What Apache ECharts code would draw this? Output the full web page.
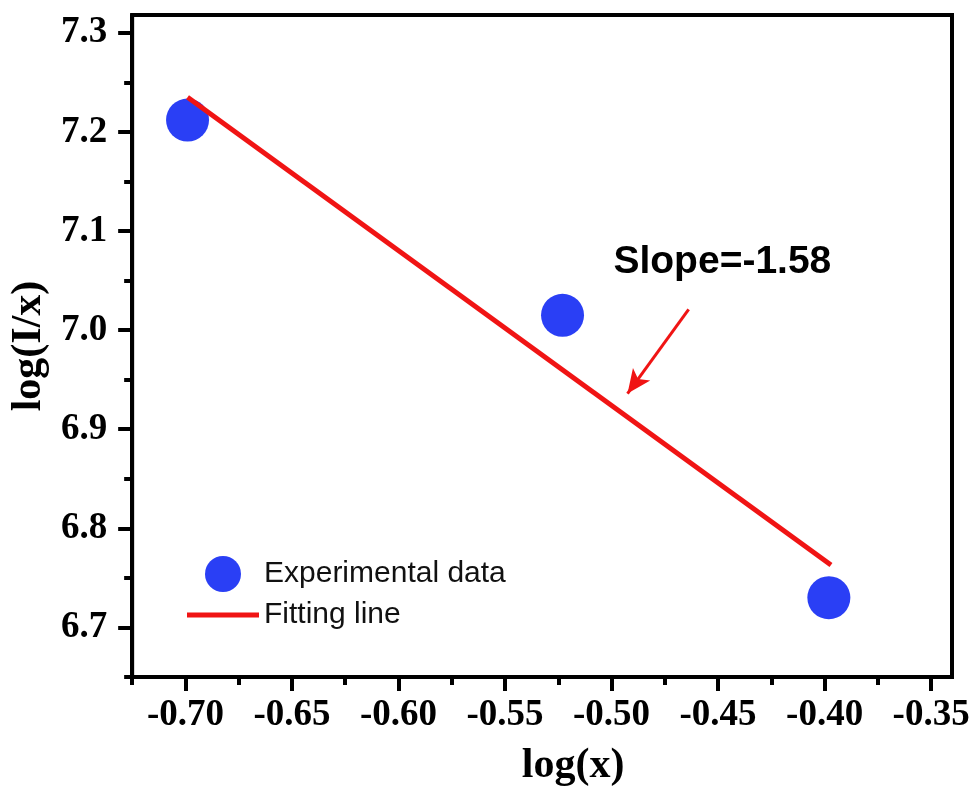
<!DOCTYPE html>
<html>
<head>
<meta charset="utf-8">
<script src="https://cdn.jsdelivr.net/npm/echarts@6/dist/echarts.min.js"></script>
<style>
  html, body { margin: 0; padding: 0; background: #fff; }
  #chart { width: 974px; height: 792px; }
</style>
</head>
<body>
<div id="chart"></div>
<script>
// measured points (log(x), log(I/x))
const expData = [
  [-0.699, 7.212],
  [-0.523, 7.015],
  [-0.398, 6.730]
];
// linear fit endpoints
const fitData = [
  [-0.699, 7.235],
  [-0.397, 6.763]
];
const xMajorTicks = [-0.70, -0.65, -0.60, -0.55, -0.50, -0.45, -0.40, -0.35];
const xMinorTicks = [-0.725, -0.675, -0.625, -0.575, -0.525, -0.475, -0.425, -0.375];
const yMajorTicks = [6.7, 6.8, 6.9, 7.0, 7.1, 7.2, 7.3];
const yMinorTicks = [6.65, 6.75, 6.85, 6.95, 7.05, 7.15, 7.25];
// annotation arrow (data coords) and slope text anchor
const arrowFrom = [-0.4638, 7.021];
const arrowTo = [-0.4925, 6.936];
const slopeText = 'Slope=-1.58';
const slopeAt = [-0.4991, 7.0687];

const BLUE = '#2a3ff5';
const RED = '#f01414';
const serif = '"Liberation Serif", "Times New Roman", serif';
const sans = '"Liberation Sans", Arial, sans-serif';

const X_MIN = -0.725, X_MAX = -0.3402;
const Y_MIN = 6.65, Y_MAX = 7.318;

const chart = echarts.init(document.getElementById('chart'), null, { renderer: 'canvas' });

const axisBase = { type: 'value', splitLine: { show: false } };

chart.setOption({
  animation: false,
  backgroundColor: '#fff',
  grid: {
    left: 132, right: 22, top: 15, bottom: 115,
    show: true, borderColor: '#000', borderWidth: 4
  },
  legend: {
    orient: 'vertical',
    left: 182, top: 551,
    itemWidth: 72, itemHeight: 36, itemGap: 8,
    textStyle: { fontFamily: sans, fontSize: 30, color: '#111', padding: [0, 0, 0, 0] },
    data: [
      { name: 'Experimental data', icon: 'circle' },
      { name: 'Fitting line', icon: 'path://M0,0 L72,0 L72,5 L0,5 Z', itemStyle: { color: RED } }
    ]
  },
  xAxis: [
    Object.assign({}, axisBase, {
      min: X_MIN, max: X_MAX,
      name: 'log(x)', nameLocation: 'middle', nameGap: 68,
      nameTextStyle: { fontFamily: serif, fontWeight: 'bold', fontSize: 42, color: '#000', padding: [0, 0, 0, 62] },
      axisLine: { show: true, lineStyle: { color: '#000', width: 4 } },
      axisTick: { show: true, customValues: xMajorTicks, length: 14, lineStyle: { color: '#000', width: 4 } },
      axisLabel: {
        customValues: xMajorTicks, margin: 20,
        fontFamily: serif, fontWeight: 'bold', fontSize: 37, color: '#000',
        formatter: v => v.toFixed(2)
      }
    }),
    Object.assign({}, axisBase, {
      min: X_MIN, max: X_MAX, position: 'bottom',
      axisLine: { show: false },
      axisTick: { show: true, customValues: xMinorTicks, length: 8, lineStyle: { color: '#000', width: 4 } },
      axisLabel: { show: false }
    })
  ],
  yAxis: [
    Object.assign({}, axisBase, {
      min: Y_MIN, max: Y_MAX,
      name: 'log(I/x)', nameLocation: 'middle', nameGap: 79,
      nameTextStyle: { fontFamily: serif, fontWeight: 'bold', fontSize: 42, color: '#000' },
      axisLine: { show: true, lineStyle: { color: '#000', width: 4 } },
      axisTick: { show: true, customValues: yMajorTicks, length: 14, lineStyle: { color: '#000', width: 4 } },
      axisLabel: {
        customValues: yMajorTicks, margin: 25,
        fontFamily: serif, fontWeight: 'bold', fontSize: 37, color: '#000',
        formatter: v => v.toFixed(1)
      }
    }),
    Object.assign({}, axisBase, {
      min: Y_MIN, max: Y_MAX, position: 'left',
      axisLine: { show: false },
      axisTick: { show: true, customValues: yMinorTicks, length: 8, lineStyle: { color: '#000', width: 4 } },
      axisLabel: { show: false }
    })
  ],
  series: [
    {
      name: 'Experimental data',
      type: 'scatter',
      data: expData,
      symbol: 'circle',
      symbolSize: 43,
      itemStyle: { color: BLUE, opacity: 1 }
    },
    {
      name: 'Fitting line',
      type: 'line',
      data: fitData,
      symbol: 'none',
      lineStyle: { color: RED, width: 5 },
      itemStyle: { color: RED },
      markLine: {
        silent: true,
        symbol: ['none', 'arrow'],
        symbolSize: [16, 24],
        label: { show: false },
        lineStyle: { color: RED, width: 3, type: 'solid' },
        data: [[{ coord: arrowFrom }, { coord: arrowTo }]]
      }
    }
  ]
});

// slope annotation text, anchored in data coordinates
const p = chart.convertToPixel({ gridIndex: 0 }, slopeAt);
chart.setOption({
  graphic: [{
    type: 'text',
    x: p[0], y: p[1],
    style: {
      text: slopeText,
      fontFamily: sans, fontWeight: 'bold', fontSize: 39,
      fill: '#000', textVerticalAlign: 'middle', textAlign: 'left'
    }
  }]
});
</script>
</body>
</html>
